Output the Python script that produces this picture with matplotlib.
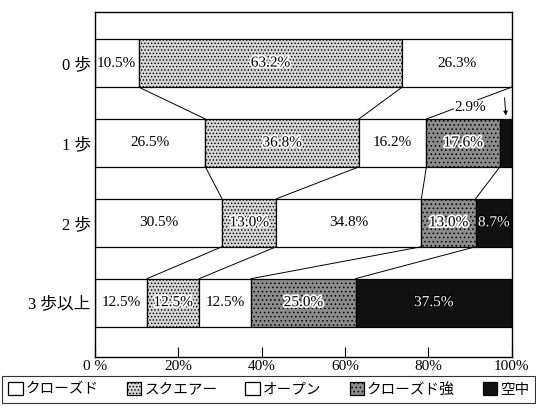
import matplotlib.pyplot as plt
import matplotlib.patheffects as pe
import numpy as np

plt.rcParams['font.family'] = ['Liberation Serif', 'Noto Sans CJK JP']
plt.rcParams['hatch.linewidth'] = 0.6

# data
rows = ['0 歩', '1 歩', '2 歩', '3 歩以上']
series = ['クローズド', 'スクエアー', 'オープン', 'クローズド強', '空中']
closed = [10.5, 26.5, 30.5, 12.5]
square = [63.2, 36.8, 13.0, 12.5]
open_ = [26.3, 16.2, 34.8, 12.5]
closed_strong = [0, 17.6, 13.0, 25.0]
aerial = [0, 2.9, 8.7, 37.5]
xticks = [0, 20, 40, 60, 80, 100]
xticklabels = ['0 %', '20%', '40%', '60%', '80%', '100%']

colors = ['white', '#d4d4d4', 'white', '#8c8c8c', '#111111']
hatches = [None, '.....', None, '....', None]
text_colors = ['black', 'black', 'black', 'black', 'white']

vals = np.array([closed, square, open_, closed_strong, aerial])
cum = np.cumsum(vals, axis=0)
h = 0.6

fig = plt.figure(figsize=(5.36, 4.15), dpi=100)
ax = fig.add_axes([0.177, 0.140, 0.778, 0.831])

y = np.arange(len(rows))
for j in range(len(series)):
    left = cum[j] - vals[j]
    ax.barh(y, vals[j], left=left, height=h, color=colors[j],
            edgecolor='black', linewidth=0.9, hatch=hatches[j],
            label=series[j])
    for i in range(len(rows)):
        v = vals[j][i]
        if v <= 0 or (i == 1 and j == 4):
            continue
        t = ax.text(left[i] + v / 2, y[i], f'{v:.1f}%', ha='center',
                    va='center', fontsize=11, color=text_colors[j])
        if j in (1, 3):
            t.set_path_effects([pe.withStroke(linewidth=2.5, foreground='white')])
        if j == 4:
            t.set_path_effects([pe.withStroke(linewidth=1.5, foreground='black')])

# connector lines between rows
for i in range(len(rows) - 1):
    for j in range(len(series) - 1):
        if vals[j][i] > 0 and vals[j][i + 1] > 0:
            ax.plot([cum[j][i], cum[j][i + 1]], [y[i] + h / 2, y[i + 1] - h / 2],
                    color='black', linewidth=0.7)

# 2.9% callout
ax.text(90.0, 0.55, '2.9%', ha='center', va='center', fontsize=11,
        bbox=dict(facecolor='white', edgecolor='none', pad=0.5))
ax.annotate('', xy=(98.6, 0.69), xytext=(98.2, 0.4),
            arrowprops=dict(arrowstyle='-|>', color='black', lw=0.7,
                            mutation_scale=6))

ax.set_xlim(0, 100)
ax.set_ylim(3.68, -0.64)
ax.set_yticks(y)
ax.set_yticklabels(rows, fontsize=12)
ax.tick_params(axis='y', length=0, pad=3)
ax.set_xticks(xticks)
ax.set_xticklabels(xticklabels, fontsize=11)
ax.tick_params(axis='x', direction='in', length=7, width=0.8, pad=2)
for s in ax.spines.values():
    s.set_linewidth(1.0)

leg = fig.legend(loc='lower left', bbox_to_anchor=(0.004, 0.03, 0.995, 0.1),
                 mode='expand', ncol=5, fontsize=10.5, frameon=True,
                 fancybox=False, edgecolor='black', handlelength=1.0,
                 handleheight=1.0, handletextpad=0.2, columnspacing=0.8,
                 borderpad=0.4, borderaxespad=0.0)
leg.get_frame().set_linewidth(0.8)

fig.savefig('out.png', dpi=100)
